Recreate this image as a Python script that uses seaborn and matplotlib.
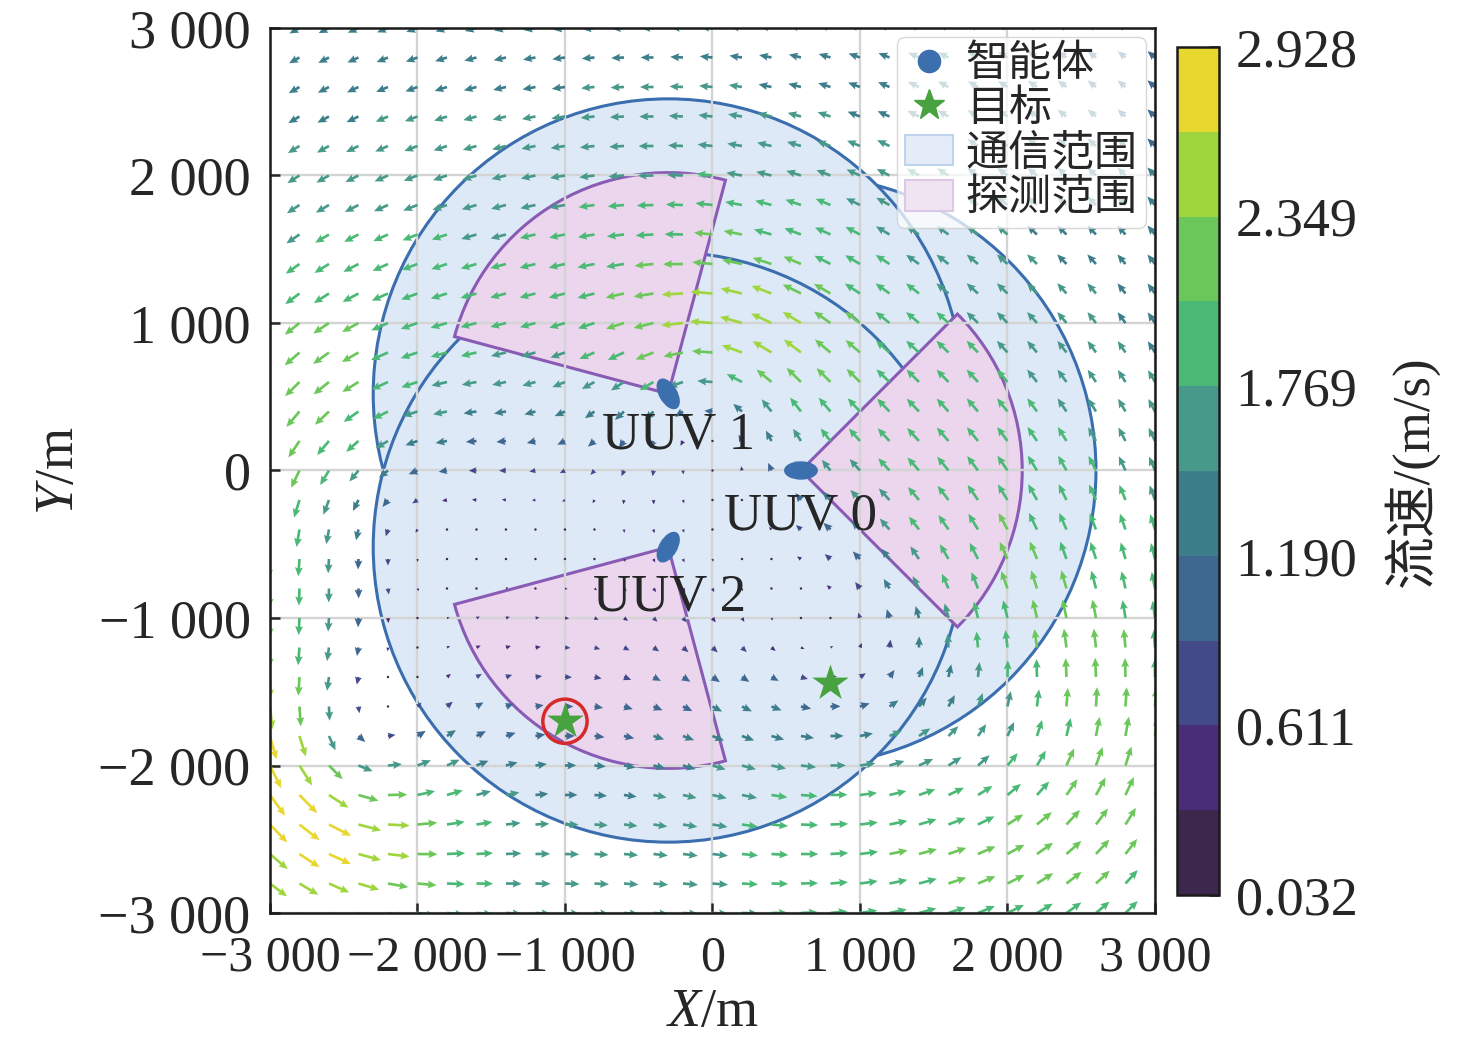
import numpy as np
import matplotlib
matplotlib.use("Agg")
import matplotlib.pyplot as plt
from matplotlib.patches import Circle, Wedge, Ellipse, Patch
from matplotlib.lines import Line2D
from matplotlib.colors import ListedColormap
import seaborn as sns

# 海流场：Lamb 涡叠加（涡心 m，核半径 m，强度 Γ/2π m^2/s）
vortex_x = [25, 2267, 1084, -2290, -2470]
vortex_y = [492, -2077, -1276, -128, -1895]
vortex_core = [496, 597, 982, 821, 530]
vortex_strength = [980, 500, 1981, 1417, 1248]
background_uv = [0.060, -0.042]
grid_step = 200

# 智能体
uuv_names = ["UUV 0", "UUV 1", "UUV 2"]
uuv_x = [600, -300, -300]
uuv_y = [0, 519.6, -519.6]
uuv_heading = [0, 120, 240]
label_x = [600, -230, -290]
label_y = [-315, 235, -860]
comm_radius = 2000
detect_radius = 1500
detect_angle = 90

# 目标
target_x = [-1000, 800]
target_y = [-1700, -1440]
target_found = [True, False]

tick_values = [-3000, -2000, -1000, 0, 1000, 2000, 3000]
tick_labels = ["\u22123 000", "\u22122 000", "\u22121 000", "0", "1 000", "2 000", "3 000"]
cbar_ticks = [0.032, 0.611, 1.190, 1.769, 2.349, 2.928]
cbar_labels = ["0.032", "0.611", "1.190", "1.769", "2.349", "2.928"]
# 图中 10 级色带
level_colors = ["#3c284c", "#4a2d78", "#434a8a", "#3f6890", "#3d7e8b",
                "#47998a", "#4bb976", "#6cc75a", "#9fd63e", "#e7d72f"]

sns.set_style("white")
plt.rcParams["font.family"] = ["Liberation Serif", "Noto Sans CJK SC"]
plt.rcParams["mathtext.fontset"] = "custom"
plt.rcParams["mathtext.rm"] = "Liberation Serif"
plt.rcParams["mathtext.it"] = "Liberation Serif:italic"

# 流场计算
xs = np.arange(-3000, 3001, grid_step)
GX, GY = np.meshgrid(xs, xs)
U = np.full(GX.shape, background_uv[0])
V = np.full(GX.shape, background_uv[1])
for x0, y0, rc, g in zip(vortex_x, vortex_y, vortex_core, vortex_strength):
    dx = GX - x0
    dy = GY - y0
    r2 = dx**2 + dy**2 + 1e-6
    h = g * (1 - np.exp(-r2 / rc**2)) / r2
    U = U - h * dy
    V = V + h * dx
S = np.hypot(U, V)

fig = plt.figure(figsize=(14.76, 10.48), dpi=100)
ax = fig.add_axes([0.1829, 0.1288, 0.5996, 0.8445])
cax = fig.add_axes([0.7974, 0.146, 0.0285, 0.8092])

# 通信范围（后画的圆盖住前面圆的边线）
for i in range(3):
    ax.add_patch(Circle((uuv_x[i], uuv_y[i]), comm_radius, facecolor="#dde9f6",
                        edgecolor="#3a6eae", lw=2.2, zorder=1.0 + 0.01 * i))
# 探测范围
for i in range(3):
    h0 = uuv_heading[i]
    ax.add_patch(Wedge((uuv_x[i], uuv_y[i]), detect_radius, h0 - detect_angle / 2, h0 + detect_angle / 2,
                       facecolor="#ebd6ed", edgecolor="#8a5bb5", lw=2.2, zorder=1.1))

cmap = ListedColormap(level_colors)
q = ax.quiver(GX, GY, U, V, S, cmap=cmap, clim=(cbar_ticks[0], cbar_ticks[-1]),
              angles="xy", scale_units="xy", scale=1 / 61, pivot="tail",
              width=0.003, headwidth=3, headlength=3.4, headaxislength=3.0, zorder=2)

for i in range(3):
    ax.add_patch(Ellipse((uuv_x[i], uuv_y[i]), 220, 115, angle=uuv_heading[i], color="#3b6fae", zorder=3))
    ax.text(label_x[i], label_y[i], uuv_names[i], fontsize=38, ha="center", va="center", zorder=5)

ax.scatter(target_x, target_y, marker="*", s=760, color="#47a23f", zorder=4, linewidths=0)
for tx, ty, found in zip(target_x, target_y, target_found):
    if found:
        ax.add_patch(Circle((tx, ty), 150, fill=False, edgecolor="#d62a2a", lw=2.5, zorder=4))

ax.set_xlim(-3000, 3000)
ax.set_ylim(-3000, 3000)
ax.set_aspect("equal")
ax.set_axisbelow("line")
ax.grid(True, color="#d4d4d4", lw=1.7)
ax.set_xticks(tick_values)
ax.set_xticklabels(tick_labels)
ax.set_yticks(tick_values)
ax.set_yticklabels(tick_labels)
ax.tick_params(direction="in", length=7, width=1.8, labelsize=39, pad=14,
               bottom=True, left=True, top=False, right=False)
ax.tick_params(axis="x", labelsize=36, pad=16)
for sp in ax.spines.values():
    sp.set_color("#1a1a1a")
    sp.set_linewidth(1.8)
ax.set_xlabel(r"$\mathit{X}$/m", fontsize=39, labelpad=4)
ax.set_ylabel(r"$\mathit{Y}$/m", fontsize=39, labelpad=10)

handles = [
    Line2D([], [], ls="none", marker="o", markersize=16, color="#3b6fae"),
    Line2D([], [], ls="none", marker="*", markersize=23, color="#47a23f"),
    Patch(facecolor="#e3ecf7", edgecolor="#c0d3ec", lw=1.5),
    Patch(facecolor="#f0e4f2", edgecolor="#dcc8e6", lw=1.5),
]
ax.legend(handles, ["智能体", "目标", "通信范围", "探测范围"], loc="upper right", fontsize=31,
          labelspacing=0.12, handletextpad=0.3, borderpad=0.2, handlelength=1.1,
          borderaxespad=0.2, framealpha=0.75, edgecolor="#cccccc", fancybox=True)

cb = fig.colorbar(q, cax=cax)
cb.set_ticks(cbar_ticks)
cb.set_ticklabels(cbar_labels)
cb.ax.tick_params(direction="in", length=7, width=1.8, labelsize=39, pad=12)
cb.outline.set_linewidth(1.8)
cb.outline.set_edgecolor("#1a1a1a")
cb.set_label("流速/(m/s)", fontsize=38, labelpad=18)

fig.savefig("out.png", dpi=100)
